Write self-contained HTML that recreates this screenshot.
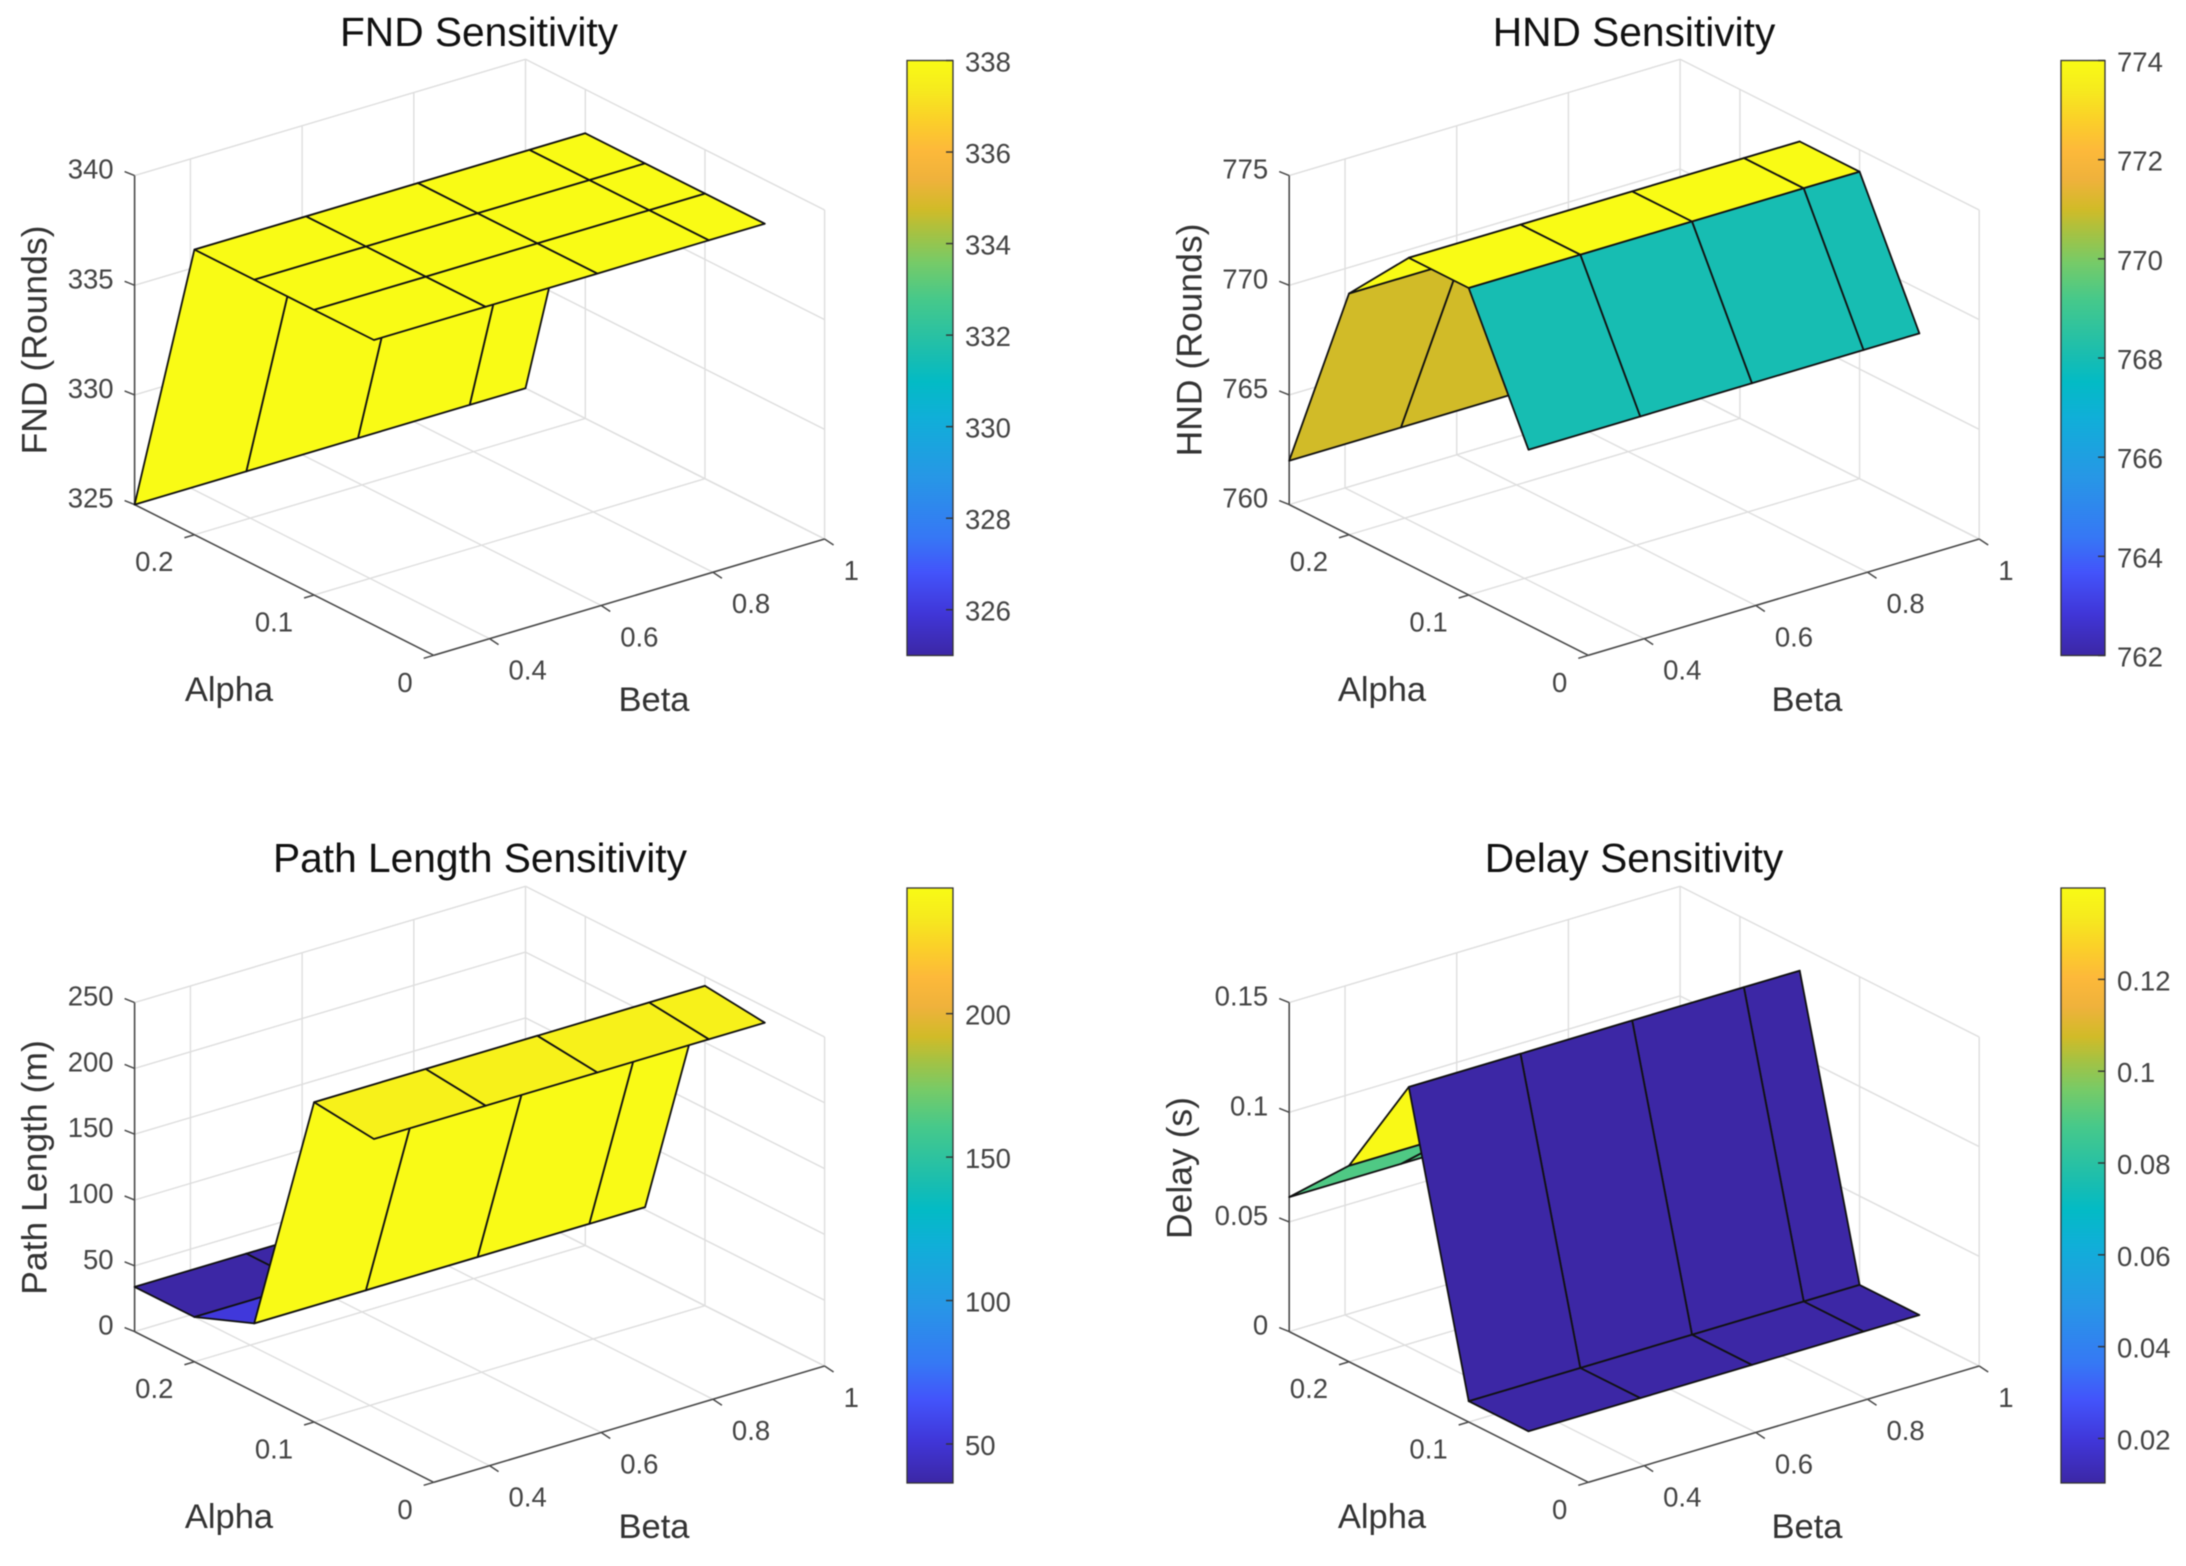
<!DOCTYPE html>
<html lang="en">
<head>
<meta charset="utf-8">
<title>Sensitivity Surfaces</title>
<style>
html,body{margin:0;padding:0;background:#fff;}
#figure{display:block;width:2186px;height:1566px;filter:blur(0.45px);}
text{font-family:"Liberation Sans",Arial,sans-serif;}
.title{font-size:40.7px;fill:#111;text-anchor:middle;}
.axis-label{font-size:34.5px;fill:#333;text-anchor:middle;}
.axis-label-z{font-size:35.5px;}
.tick{font-size:27.5px;fill:#444;}
</style>
</head>
<body>
<svg id="figure" xmlns="http://www.w3.org/2000/svg" width="2186" height="1566" viewBox="0 0 2186 1566">
  <defs>
    <linearGradient id="parula-gradient" x1="0" y1="1" x2="0" y2="0"></linearGradient>
  </defs>
  <rect x="0" y="0" width="2186" height="1566" fill="#fff"/>

  <g id="panel-fnd">
    <text class="title" x="479" y="46">FND Sensitivity</text>
    <text class="axis-label axis-label-z" transform="translate(46.5,340) rotate(-90)">FND (Rounds)</text>
    <text class="axis-label" x="229" y="701">Alpha</text>
    <text class="axis-label" x="654" y="711">Beta</text>
  </g>
  <g id="panel-hnd">
    <text class="title" x="1634" y="46">HND Sensitivity</text>
    <text class="axis-label axis-label-z" transform="translate(1201.5,340) rotate(-90)">HND (Rounds)</text>
    <text class="axis-label" x="1382" y="701">Alpha</text>
    <text class="axis-label" x="1807" y="711">Beta</text>
  </g>
  <g id="panel-path">
    <text class="title" x="480" y="872">Path Length Sensitivity</text>
    <text class="axis-label axis-label-z" transform="translate(46.5,1167.5) rotate(-90)">Path Length (m)</text>
    <text class="axis-label" x="229" y="1528">Alpha</text>
    <text class="axis-label" x="654" y="1538">Beta</text>
  </g>
  <g id="panel-delay">
    <text class="title" x="1634" y="872">Delay Sensitivity</text>
    <text class="axis-label axis-label-z" transform="translate(1191.5,1168) rotate(-90)">Delay (s)</text>
    <text class="axis-label" x="1382" y="1528">Alpha</text>
    <text class="axis-label" x="1807" y="1538">Beta</text>
  </g>
</svg>
<script>
// Grid values shared by all surfaces
const alphaValues = [0.25, 0.2, 0.15, 0.1, 0.05];
const betaValues = [0.3, 0.5, 0.7, 0.9, 1];
const alphaTicks = [0, 0.1, 0.2];
const betaTicks = [0.4, 0.6, 0.8, 1];

// FND surface: one row per alpha, one column per beta
const fndValues = [
  [325, 325, 325, 325, 325],
  [338, 338, 338, 338, 338],
  [338, 338, 338, 338, 338],
  [338, 338, 338, 338, 338],
  [338, 338, 338, 338, 338]
];
const fndZTicks = [325, 330, 335, 340];
const fndColorTicks = [326, 328, 330, 332, 334, 336, 338];
const fndColorLimits = [325, 338];

// HND surface
const hndValues = [
  [762, 762, 762, 762, 762],
  [771, 771, 771, 771, 771],
  [774, 774, 774, 774, 774],
  [774, 774, 774, 774, 774],
  [768, 768, 768, 768, 768]
];
const hndZTicks = [760, 765, 770, 775];
const hndColorTicks = [762, 764, 766, 768, 770, 772, 774];
const hndColorLimits = [762, 774];

// Path length surface
const pathValues = [
  [34, 34, 34, 34, 34],
  [34, 34, 34, 34, 34],
  [52, 52, 52, 52, 52],
  [243, 243, 243, 243, 243],
  [238, 238, 238, 238, 238]
];
const pathZTicks = [0, 50, 100, 150, 200, 250];
const pathColorTicks = [50, 100, 150, 200];
const pathColorLimits = [36.4, 243.8];

// Delay surface
const delayValues = [
  [0.0613, 0.0613, 0.0613, 0.0613, 0.0613],
  [0.0894, 0.0894, 0.0894, 0.0894, 0.0894],
  [0.139, 0.139, 0.139, 0.139, 0.139],
  [0.0095, 0.0095, 0.0095, 0.0095, 0.0095],
  [0.0095, 0.0095, 0.0095, 0.0095, 0.0095]
];
const delayZTicks = [0, 0.05, 0.1, 0.15];
const delayColorTicks = [0.02, 0.04, 0.06, 0.08, 0.1, 0.12];
const delayColorLimits = [0.0103, 0.1399];

// Parula colormap stops [position, colour]
const parulaStops = [
  [0, '#3c27a5'], [0.07, '#4036d8'], [0.14, '#4354fb'], [0.2, '#3678f5'],
  [0.3, '#2797e6'], [0.4, '#10afd8'], [0.46, '#03bbc5'], [0.5, '#17bdb2'],
  [0.6, '#47c98a'], [0.66, '#76cb68'], [0.71, '#a5c243'], [0.75, '#d1bb28'],
  [0.8, '#efb23c'], [0.85, '#fdb93a'], [0.9, '#fbd029'], [0.95, '#f6ea1e'], [1, '#f9fb15']
];

const SVG_NS = 'http://www.w3.org/2000/svg';
const figure = document.getElementById('figure');

const gradient = document.getElementById('parula-gradient');
parulaStops.forEach(function (s) {
  const stop = document.createElementNS(SVG_NS, 'stop');
  stop.setAttribute('offset', s[0]);
  stop.setAttribute('stop-color', s[1]);
  gradient.appendChild(stop);
});

function hexToRgb(h) {
  return [parseInt(h.slice(1, 3), 16), parseInt(h.slice(3, 5), 16), parseInt(h.slice(5, 7), 16)];
}
function parula(t) {
  const v = Math.max(0, Math.min(1, t));
  for (let i = 1; i < parulaStops.length; i++) {
    if (v <= parulaStops[i][0]) {
      const a = parulaStops[i - 1], b = parulaStops[i];
      const f = (v - a[0]) / (b[0] - a[0]);
      const ca = hexToRgb(a[1]), cb = hexToRgb(b[1]);
      return 'rgb(' + ca.map(function (c, k) { return Math.round(c + (cb[k] - c) * f); }).join(',') + ')';
    }
  }
  return parulaStops[parulaStops.length - 1][1];
}

function addLine(parent, p, q, stroke, width, name) {
  const el = document.createElementNS(SVG_NS, 'line');
  el.setAttribute('x1', p[0]);
  el.setAttribute('y1', p[1]);
  el.setAttribute('x2', q[0]);
  el.setAttribute('y2', q[1]);
  el.setAttribute('stroke', stroke);
  el.setAttribute('stroke-width', width);
  
  
  parent.appendChild(el);
  return el;
}
function addText(parent, x, y, anchor, label, name) {
  const el = document.createElementNS(SVG_NS, 'text');
  el.setAttribute('class', 'tick');
  el.setAttribute('x', x);
  el.setAttribute('y', y);
  el.setAttribute('text-anchor', anchor);
  el.textContent = label;
  
  
  parent.appendChild(el);
  return el;
}

const GRID = '#dedede';
const AXIS = '#4a4a4a';
const ALPHA_MAX = 0.25;
const BETA_MIN = 0.3;
const BETA_MAX = 1;

function drawPanel(cfg) {
  const group = document.getElementById(cfg.id);
  const zMin = cfg.zTicks[0];
  const zMax = cfg.zTicks[cfg.zTicks.length - 1];

  // Axis function: data coordinates to screen coordinates
  function project(alpha, beta, z) {
    const b = (beta - BETA_MIN) / (BETA_MAX - BETA_MIN);
    const a = alpha / ALPHA_MAX;
    const h = (z - zMin) / (zMax - zMin);
    return [cfg.fx + b * 390.9 - a * 299.1, cfg.fy - b * 116.3 - a * 150.7 - h * 329];
  }

  // Gridlines on floor and walls
  alphaTicks.forEach(function (t) {
    addLine(group, project(t, BETA_MIN, zMin), project(t, BETA_MAX, zMin), GRID, 1.4, cfg.key + '-floor-grid-alpha');
    addLine(group, project(t, BETA_MAX, zMin), project(t, BETA_MAX, zMax), GRID, 1.4, cfg.key + '-wall-grid-alpha');
  });
  betaTicks.forEach(function (t) {
    addLine(group, project(0, t, zMin), project(ALPHA_MAX, t, zMin), GRID, 1.4, cfg.key + '-floor-grid-beta');
    addLine(group, project(ALPHA_MAX, t, zMin), project(ALPHA_MAX, t, zMax), GRID, 1.4, cfg.key + '-wall-grid-beta');
  });
  cfg.zTicks.forEach(function (t) {
    addLine(group, project(ALPHA_MAX, BETA_MIN, t), project(ALPHA_MAX, BETA_MAX, t), GRID, 1.4, cfg.key + '-back-wall-grid-z');
    addLine(group, project(ALPHA_MAX, BETA_MAX, t), project(0, BETA_MAX, t), GRID, 1.4, cfg.key + '-side-wall-grid-z');
  });

  // Axis rulers
  addLine(group, project(ALPHA_MAX, BETA_MIN, zMin), project(ALPHA_MAX, BETA_MIN, zMax), AXIS, 1.6, cfg.key + '-z-axis');
  addLine(group, project(ALPHA_MAX, BETA_MIN, zMin), project(0, BETA_MIN, zMin), AXIS, 1.6, cfg.key + '-alpha-axis');
  addLine(group, project(0, BETA_MIN, zMin), project(0, BETA_MAX, zMin), AXIS, 1.6, cfg.key + '-beta-axis');

  // Ticks and labels
  cfg.zTicks.forEach(function (t) {
    const p = project(ALPHA_MAX, BETA_MIN, t);
    addLine(group, p, [p[0] - 10, p[1] - 4], AXIS, 1.5, cfg.key + '-z-tick');
    addText(group, p[0] - 21, p[1] + 3, 'end', String(t), cfg.key + '-z-tick-label');
  });
  alphaTicks.forEach(function (t) {
    const p = project(t, BETA_MIN, zMin);
    addLine(group, p, [p[0] - 10, p[1] + 3], AXIS, 1.5, cfg.key + '-alpha-tick');
    addText(group, p[0] - 21, p[1] + 36.5, 'end', String(t), cfg.key + '-alpha-tick-label');
  });
  betaTicks.forEach(function (t) {
    const p = project(0, t, zMin);
    addLine(group, p, [p[0] + 9, p[1] + 6], AXIS, 1.5, cfg.key + '-beta-tick');
    addText(group, p[0] + 19, p[1] + 41, 'start', String(t), cfg.key + '-beta-tick-label');
  });

  // Surface faces, painted from the far corner to the near corner
  const cLow = cfg.colorLimits[0];
  const cHigh = cfg.colorLimits[1];
  for (let i = 0; i < alphaValues.length - 1; i++) {
    for (let j = betaValues.length - 2; j >= 0; j--) {
      const corners = [
        project(alphaValues[i], betaValues[j], cfg.values[i][j]),
        project(alphaValues[i], betaValues[j + 1], cfg.values[i][j + 1]),
        project(alphaValues[i + 1], betaValues[j + 1], cfg.values[i + 1][j + 1]),
        project(alphaValues[i + 1], betaValues[j], cfg.values[i + 1][j])
      ];
      const face = document.createElementNS(SVG_NS, 'polygon');
      face.setAttribute('points', corners.map(function (c) { return c[0].toFixed(1) + ',' + c[1].toFixed(1); }).join(' '));
      face.setAttribute('fill', parula((cfg.values[i + 1][j] - cLow) / (cHigh - cLow)));
      face.setAttribute('stroke', '#111');
      face.setAttribute('stroke-width', '1.8');
      face.setAttribute('stroke-linejoin', 'round');
      
      
      group.appendChild(face);
    }
  }

  // Colorbar
  const bar = document.createElementNS(SVG_NS, 'rect');
  bar.setAttribute('x', cfg.barX);
  bar.setAttribute('y', cfg.barTop);
  bar.setAttribute('width', cfg.barW);
  bar.setAttribute('height', 595);
  bar.setAttribute('fill', 'url(#parula-gradient)');
  bar.setAttribute('stroke', '#333');
  bar.setAttribute('stroke-width', '1.3');
  
  
  group.appendChild(bar);
  cfg.colorTicks.forEach(function (t) {
    const y = cfg.barTop + 595 * (cHigh - t) / (cHigh - cLow);
    const right = cfg.barX + cfg.barW;
    addLine(group, [right - 7, y], [right, y], '#333', 1.4, cfg.key + '-colorbar-tick');
    addText(group, right + 12, y + 11, 'start', String(t), cfg.key + '-colorbar-tick-label');
  });
}

drawPanel({ id: 'panel-fnd', key: 'fnd', fx: 433.7, fy: 655.3, barX: 907, barW: 46, barTop: 60.5,
  values: fndValues, zTicks: fndZTicks, colorTicks: fndColorTicks, colorLimits: fndColorLimits });
drawPanel({ id: 'panel-hnd', key: 'hnd', fx: 1588.3, fy: 655.3, barX: 2061, barW: 44, barTop: 60.5,
  values: hndValues, zTicks: hndZTicks, colorTicks: hndColorTicks, colorLimits: hndColorLimits });
drawPanel({ id: 'panel-path', key: 'path-length', fx: 433.7, fy: 1482.3, barX: 907, barW: 46, barTop: 888,
  values: pathValues, zTicks: pathZTicks, colorTicks: pathColorTicks, colorLimits: pathColorLimits });
drawPanel({ id: 'panel-delay', key: 'delay', fx: 1588.3, fy: 1482.3, barX: 2061, barW: 44, barTop: 888,
  values: delayValues, zTicks: delayZTicks, colorTicks: delayColorTicks, colorLimits: delayColorLimits });
</script>
</body>
</html>
